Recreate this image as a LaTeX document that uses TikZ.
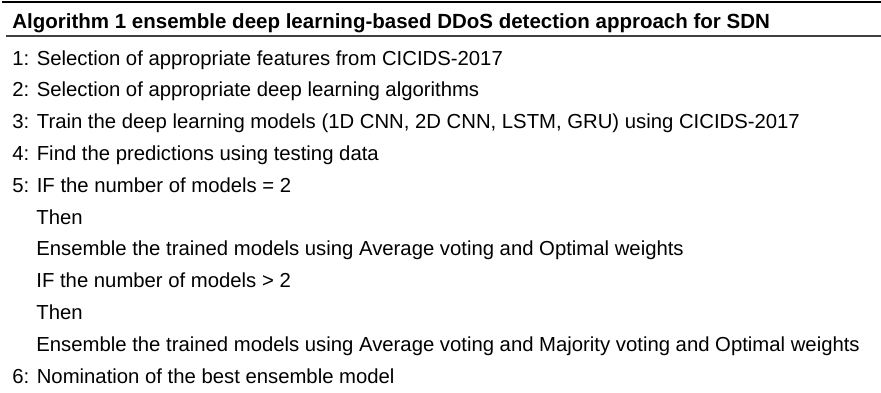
\documentclass[tikz,border=0pt]{standalone}
\usepackage{fontspec}
\setmainfont{Liberation Sans}
\usetikzlibrary{positioning}
\tikzset{
    algoText/.style={anchor=base west, inner sep=0pt, font=\fontsize{10.15}{12}\selectfont},
    algoHead/.style={algoText, font=\fontsize{10.25}{12}\selectfont\bfseries},
    algoRule/.style={line width=0.6pt, black!75}
}

\begin{document}
\begin{tikzpicture}[x=0.5pt,y=-0.5pt]
	\useasboundingbox (0,0) rectangle (881,392);
	% rules of the algorithm box
	\coordinate (topL) at (2,2);
	\coordinate (topR) at (881,2);
	\coordinate (midL) at (6,36);
	\coordinate (midR) at (881,36);
	\draw[line width=1pt] (topL) -- (topR);
	\draw[algoRule] (midL) -- (midR);
	\node[algoHead] (head) at (12,28.5) {Algorithm 1 ensemble deep learning-based DDoS detection approach for SDN};
	% steps
	\node[algoText] (s1) at (12,65) {1: Selection of appropriate features from CICIDS-2017};
	\node[algoText] (s2) at (12,96.8) {2: Selection of appropriate deep learning algorithms};
	\node[algoText] (s3) at (12,128.6) {3: Train the deep learning models (1D CNN, 2D CNN, LSTM, GRU) using CICIDS-2017};
	\node[algoText] (s4) at (12,160.4) {4: Find the predictions using testing data};
	\node[algoText] (s5) at (12,192.2) {5: IF the number of models = 2};
	\node[algoText] (s5a) at (36,224) {Then};
	\node[algoText] (s5b) at (36,255.8) {Ensemble the trained models using Average voting and Optimal weights};
	\node[algoText] (s5c) at (36,287.6) {IF the number of models > 2};
	\node[algoText] (s5d) at (36,319.4) {Then};
	\node[algoText] (s5e) at (36,351.2) {Ensemble the trained models using Average voting and Majority voting and Optimal weights};
	\node[algoText] (s6) at (12,383) {6: Nomination of the best ensemble model};
\end{tikzpicture}
\end{document}
